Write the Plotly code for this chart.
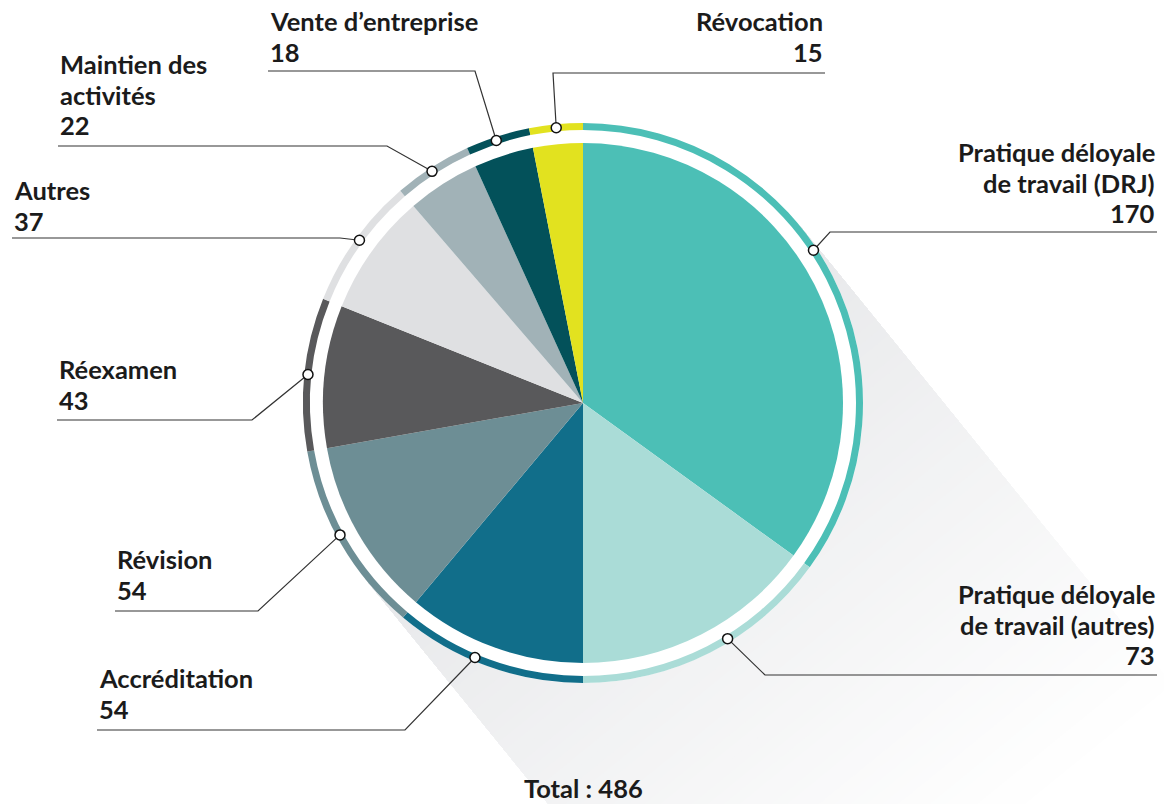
import numpy as np
import plotly.graph_objects as go

# ---- data ----
labels = [
    "Pratique déloyale<br>de travail (DRJ)",
    "Pratique déloyale<br>de travail (autres)",
    "Accréditation",
    "Révision",
    "Réexamen",
    "Autres",
    "Maintien des<br>activités",
    "Vente d’entreprise",
    "Révocation",
]
values = [170, 73, 54, 54, 43, 37, 22, 18, 15]
colors = ["#4CBFB6", "#AADCD7", "#116E8A", "#6D8E95", "#59595B",
          "#DFE0E2", "#A1B2B7", "#03515A", "#E2E21F"]

# ---- geometry (pixels) ----
W, H = 1164, 804
CX, CY = 583, 403
R_PIE = 260
R_RING_OUT, R_RING_IN = 280, 273
R_DOT = 276.5
LINE_STEP = 30.5

# label placement: text anchor x, alignment, first text line centre y,
# underline y, underline outer end x, elbow x, angle nudge of the dot
label_layout = [
    dict(tx=1157, align="right", ty=152, uy=232, ux=1157, ex=830, nudge=-6.5),
    dict(tx=1157, align="right", ty=594, uy=675, ux=1157, ex=765, nudge=-4.5),
    dict(tx=97, align="left", ty=678, uy=730, ux=97, ex=405, nudge=3),
    dict(tx=115, align="left", ty=559, uy=611, ux=115, ex=258, nudge=1.5),
    dict(tx=57, align="left", ty=369, uy=420, ux=57, ex=252, nudge=0),
    dict(tx=12, align="left", ty=190, uy=238, ux=12, ex=340, nudge=0.5),
    dict(tx=58, align="left", ty=64, uy=146, ux=58, ex=387, nudge=-0.5),
    dict(tx=268, align="left", ty=21, uy=71, ux=268, ex=475, nudge=-0.5),
    dict(tx=825, align="right", ty=21, uy=73, ux=825, ex=553, nudge=0),
]

FONT = "Lato"
FONT_SIZE = 25.5
TEXT_COLOR = "#1b1b1b"
LINE_COLOR = "#333333"
SHADOW_DARK = (231, 232, 234)

total = sum(values)
fig = go.Figure()

# ---- long drop shadow cast along direction u; a linear fade is built
# from opaque bands, longest (lightest) first, shorter (darker) on top ----
ux, uy = 0.63, 0.775
norm = np.hypot(ux, uy)
ux, uy = ux / norm, uy / norm
nx, ny = uy, -ux
K, L = 60, 600
for k in range(K, 0, -1):
    d = L * k / K
    f = 1 - (k - 0.5) / K
    rgb = tuple(round(255 - f * (255 - c)) for c in SHADOW_DARK)
    xs = [CX + R_RING_OUT * nx, CX + R_RING_OUT * nx + d * ux,
          CX - R_RING_OUT * nx + d * ux, CX - R_RING_OUT * nx]
    ys = [CY + R_RING_OUT * ny, CY + R_RING_OUT * ny + d * uy,
          CY - R_RING_OUT * ny + d * uy, CY - R_RING_OUT * ny]
    fig.add_trace(go.Scatter(
        x=xs, y=ys, mode="lines", fill="toself",
        fillcolor="rgb(%d,%d,%d)" % rgb, line=dict(width=0),
        hoverinfo="skip", showlegend=False))

# white disc separating pie and ring from the shadow
t = np.linspace(0, 2 * np.pi, 240)
fig.add_trace(go.Scatter(
    x=CX + R_RING_OUT * np.cos(t), y=CY + R_RING_OUT * np.sin(t),
    mode="lines", fill="toself", fillcolor="white", line=dict(width=0),
    hoverinfo="skip", showlegend=False))


def domain(r):
    return dict(x=[(CX - r) / W, (CX + r) / W],
                y=[1 - (CY + r) / H, 1 - (CY - r) / H])


# ---- main pie ----
fig.add_trace(go.Pie(
    labels=labels, values=values, sort=False, direction="clockwise",
    rotation=0, marker=dict(colors=colors, line=dict(width=0)),
    textinfo="none", hoverinfo="label+value", domain=domain(R_PIE),
    showlegend=False))

# ---- thin outer ring ----
fig.add_trace(go.Pie(
    labels=labels, values=values, sort=False, direction="clockwise",
    rotation=0, hole=R_RING_IN / R_RING_OUT,
    marker=dict(colors=colors, line=dict(width=0)),
    textinfo="none", hoverinfo="skip", domain=domain(R_RING_OUT),
    showlegend=False))

# ---- leader lines, dots and labels ----
shapes = []
annotations = []
text_font = dict(family=FONT, size=FONT_SIZE, color=TEXT_COLOR, weight=700)
cum = 0
for lab, val, lay in zip(labels, values, label_layout):
    mid = (cum + val / 2) / total * 360 + lay["nudge"]
    cum += val
    a = np.radians(mid)
    dx = CX + R_DOT * np.sin(a)
    dy = CY - R_DOT * np.cos(a)

    fig.add_trace(go.Scatter(
        x=[dx, lay["ex"], lay["ux"]], y=[dy, lay["uy"], lay["uy"]],
        mode="lines", line=dict(color=LINE_COLOR, width=1.2),
        hoverinfo="skip", showlegend=False))

    shapes.append(dict(
        type="circle", xref="x", yref="y", layer="above",
        x0=dx - 5, x1=dx + 5, y0=dy - 5, y1=dy + 5,
        fillcolor="white", line=dict(color="#111111", width=1.5)))

    lines = lab.split("<br>") + [str(val)]
    for i, line in enumerate(lines):
        annotations.append(dict(
            x=lay["tx"], y=lay["ty"] + i * LINE_STEP, xref="x", yref="y",
            text=line, showarrow=False,
            xanchor=lay["align"], yanchor="middle", align=lay["align"],
            font=text_font))

annotations.append(dict(
    x=CX, y=788, xref="x", yref="y", text=f"Total : {total}",
    showarrow=False, xanchor="center", yanchor="middle", font=text_font))

fig.update_layout(
    width=W, height=H, margin=dict(l=0, r=0, t=0, b=0),
    paper_bgcolor="white", plot_bgcolor="white",
    xaxis=dict(range=[0, W], visible=False, fixedrange=True),
    yaxis=dict(range=[H, 0], visible=False, fixedrange=True),
    shapes=shapes, annotations=annotations, showlegend=False,
)

fig.write_html("out.html")
